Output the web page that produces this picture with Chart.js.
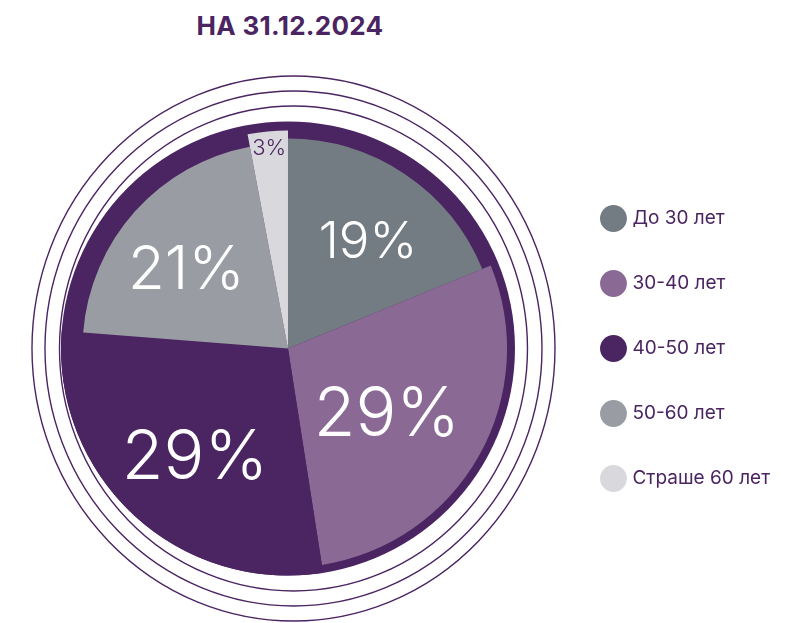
<!DOCTYPE html>
<html>
<head>
<meta charset="utf-8">
<script src="https://cdn.jsdelivr.net/npm/chart.js@4"></script>
<style>
  body { margin: 0; background: #fff; }
  #wrap { position: relative; width: 785px; height: 623px; }
  #title {
    position: absolute; left: 0; top: 10px; width: 580px;
    text-align: center; font-family: Inter, sans-serif; font-weight: 700;
    font-size: 26px; color: #4b2462; letter-spacing: 0.3px;
  }
  canvas { position: absolute; left: 0; top: 0; }
</style>
</head>
<body>
<div id="wrap">
  <div id="title">НА 31.12.2024</div>
  <canvas id="ageChart" width="785" height="623"></canvas>
</div>
<script>
const categories = ["До 30 лет", "30-40 лет", "40-50 лет", "50-60 лет", "Страше 60 лет"];
const shares = [19, 29, 29, 21, 3];

const colors = ["#737b83", "#8a6a95", "#4b2462", "#999ca3", "#d9d9dd"];
const purple = "#4b2462";

// each slice has its own reach, as a part of the base radius
const sliceReach = [0.925, 0.965, 1, 0.905, 0.96];
const labelReach = [0.65, 0.53, 0.615, 0.64, 0.93];
const labelTurn = [2, 2.2, -1, -2.5, 0];
const labelSize = [51, 68, 68, 60, 22];
const labelColor = ["#fff", "#fff", "#fff", "#fff", purple];

// outer rings: [extra x radius, extra y radius] over the base radius
const rings = [[7, 15.5], [21.5, 30.5], [34.5, 45.5]];

const uneven = {
    id: "uneven",
    afterDatasetUpdate(chart, args){
        args.meta.data.forEach((arc, i) => {
            arc.outerRadius = arc.outerRadius * sliceReach[i];
        });
    }
};

const backdrop = {
    id: "backdrop",
    beforeDatasetsDraw(chart){
        const ctx = chart.ctx;
        const area = chart.chartArea;
        const cx = (area.left + area.right) / 2;
        const cy = (area.top + area.bottom) / 2;
        const r = chart.options.radius;
        ctx.save();
        ctx.fillStyle = purple;
        ctx.beginPath();
        ctx.arc(cx, cy, r, 0, Math.PI * 2);
        ctx.fill();
        ctx.strokeStyle = purple;
        ctx.lineWidth = 1.4;
        rings.forEach(ring => {
            ctx.beginPath();
            ctx.ellipse(cx + 5.5, cy, r + ring[0], r + ring[1], 0, 0, Math.PI * 2);
            ctx.stroke();
        });
        ctx.restore();
    }
};

const labels = {
    id: "sliceLabels",
    afterDatasetsDraw(chart){
        const ctx = chart.ctx;
        const meta = chart.getDatasetMeta(0);
        ctx.save();
        ctx.textAlign = "center";
        ctx.textBaseline = "middle";
        meta.data.forEach((arc, i) => {
            const p = arc.getProps(["x", "y", "startAngle", "endAngle", "outerRadius"], true);
            const mid = (p.startAngle + p.endAngle) / 2 + labelTurn[i] * Math.PI / 180;
            const r = p.outerRadius * labelReach[i];
            ctx.font = "300 " + labelSize[i] + "px Inter, sans-serif";
            ctx.fillStyle = labelColor[i];
            ctx.fillText(shares[i] + "%",
                p.x + Math.cos(mid) * r,
                p.y + Math.sin(mid) * r + labelSize[i] * 0.09);
        });
        ctx.restore();
    }
};

new Chart(document.getElementById("ageChart"), {
    type: "pie",
    data: {
        labels: categories,
        datasets: [{
            data: shares,
            backgroundColor: colors,
            borderWidth: 0
        }]
    },
    options: {
        responsive: false,
        animation: false,
        radius: 227,
        layout: {
            padding: { top: 74, bottom: 0, left: 18, right: 5 }
        },
        plugins: {
            tooltip: { enabled: false },
            legend: {
                position: "right",
                labels: {
                    usePointStyle: true,
                    pointStyle: "circle",
                    color: purple,
                    padding: 46,
                    font: { family: "Inter", size: 19 }
                }
            }
        }
    },
    plugins: [uneven, backdrop, labels]
});
</script>
</body>
</html>
